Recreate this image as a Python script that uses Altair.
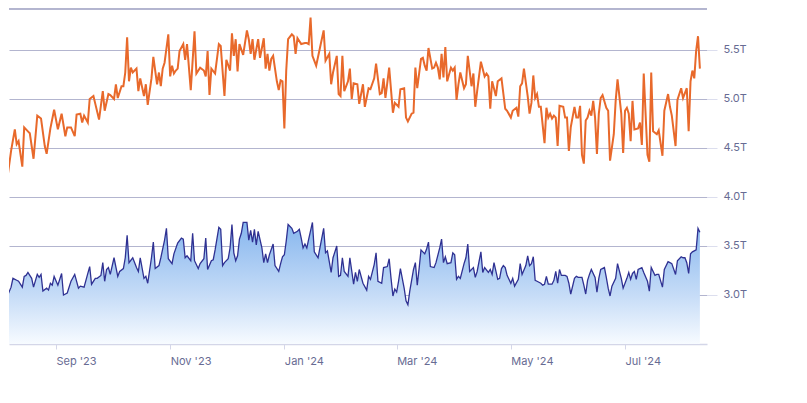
import altair as alt
import pandas as pd

# ---- data ----
start_date = "2023-08-03"

orange_days = [
    0, 1, 3, 5, 7, 8, 9, 11, 12, 14,
    15, 17, 19, 21, 23, 24, 26, 28, 30, 32,
    34, 35, 37, 39, 40, 42, 43, 44, 46, 47,
    49, 50, 52, 54, 55, 57, 58, 60, 61, 62,
    64, 65, 66, 67, 68, 69, 70, 72, 73, 74,
    76, 77, 78, 80, 81, 83, 84, 85, 86, 87,
    89, 90, 91, 92, 93, 94, 95, 97, 98, 99,
    101, 103, 104, 106, 108, 109, 110, 111, 112, 114,
    116, 117, 119, 120, 122, 123, 124, 125, 126, 127,
    129, 131, 132, 133, 134, 135, 137, 138, 140, 141,
    142, 143, 144, 145, 147, 148, 149, 150, 151, 152,
    153, 155, 156, 157, 158, 160, 162, 163, 164, 165,
    166, 168, 170, 172, 173, 175, 176, 177, 179, 180,
    181, 182, 183, 185, 186, 187, 188, 190, 191, 193,
    194, 196, 197, 199, 200, 202, 203, 204, 205, 207,
    209, 210, 212, 213, 215, 216, 217, 219, 220, 221,
    222, 224, 225, 226, 227, 228, 230, 231, 232, 233,
    234, 235, 236, 237, 238, 240, 241, 242, 243, 244,
    245, 247, 248, 249, 251, 252, 253, 254, 256, 258,
    259, 260, 261, 262, 264, 265, 267, 269, 270, 272,
    273, 275, 276, 277, 278, 279, 281, 282, 283, 284,
    285, 286, 287, 288, 290, 291, 292, 293, 294, 295,
    296, 297, 298, 300, 301, 302, 303, 304, 306, 307,
    308, 309, 310, 311, 312, 313, 314, 315, 316, 317,
    318, 319, 320, 321, 323, 324, 325, 327, 328, 329,
    331, 332, 333, 334, 335, 336, 337, 338, 340, 341,
    342, 343, 345, 346, 347, 348, 350, 351, 353, 354,
    356, 357, 358, 360, 361, 363, 364, 366, 367, 368,
    369, 370, 371, 372, 373,
]
orange_vals = [
    4.69, 4.71, 4.19, 4.47, 4.69, 4.54, 4.57, 4.31, 4.71, 4.67,
    4.65, 4.39, 4.83, 4.80, 4.52, 4.44, 4.70, 4.89, 4.69, 4.85,
    4.62, 4.71, 4.71, 4.62, 4.84, 4.85, 4.76, 4.83, 4.76, 5.00,
    5.03, 4.95, 4.79, 5.08, 4.88, 5.05, 5.04, 5.00, 5.15, 5.01,
    5.13, 5.13, 5.27, 5.63, 5.18, 5.32, 5.27, 5.31, 5.08, 5.21,
    5.03, 5.15, 4.94, 5.21, 5.43, 5.15, 5.27, 5.13, 5.31, 5.37,
    5.66, 5.23, 5.34, 5.26, 5.29, 5.31, 5.49, 5.56, 5.40, 5.56,
    5.09, 5.69, 5.26, 5.32, 5.29, 5.23, 5.49, 5.04, 5.31, 5.26,
    5.56, 5.54, 5.03, 5.40, 5.29, 5.67, 5.44, 5.61, 5.28, 5.56,
    5.45, 5.70, 5.61, 5.46, 5.61, 5.40, 5.61, 5.42, 5.62, 5.31,
    5.46, 5.29, 5.41, 5.44, 5.18, 5.09, 5.19, 5.18, 4.70, 5.29,
    5.61, 5.66, 5.64, 5.46, 5.62, 5.56, 5.57, 5.57, 5.56, 5.83,
    5.44, 5.34, 5.52, 5.70, 5.39, 5.46, 5.15, 5.27, 5.44, 5.05,
    5.03, 5.44, 5.08, 5.18, 5.31, 5.00, 5.16, 5.15, 4.95, 5.15,
    4.92, 5.11, 5.10, 5.21, 5.36, 5.05, 5.06, 5.21, 5.01, 5.32,
    4.86, 4.96, 4.92, 5.10, 5.11, 4.81, 4.77, 4.85, 4.86, 5.32,
    5.11, 5.41, 5.42, 5.34, 5.29, 5.52, 5.31, 5.32, 5.37, 5.32,
    5.20, 5.46, 5.22, 5.53, 5.18, 5.32, 5.29, 5.32, 4.99, 5.15,
    5.27, 5.11, 5.15, 5.44, 5.13, 5.26, 4.92, 5.08, 5.38, 5.23,
    5.26, 5.23, 4.90, 5.18, 5.03, 5.18, 5.21, 4.90, 4.88, 4.81,
    4.88, 4.91, 4.82, 5.13, 5.16, 5.31, 5.03, 4.85, 4.96, 5.24,
    5.01, 5.05, 4.92, 4.92, 4.55, 4.91, 4.81, 4.85, 4.80, 4.83,
    4.81, 4.52, 4.93, 4.92, 4.81, 4.81, 4.47, 4.71, 4.92, 4.81,
    4.81, 4.93, 4.43, 4.34, 4.78, 4.81, 4.88, 4.83, 4.98, 4.81,
    4.44, 4.85, 5.01, 5.04, 4.91, 4.88, 4.37, 4.64, 4.98, 5.20,
    4.85, 4.45, 4.88, 4.91, 4.85, 4.57, 4.98, 4.69, 4.70, 4.76,
    4.53, 5.26, 4.43, 4.36, 5.27, 4.67, 4.64, 4.68, 4.42, 4.88,
    5.05, 4.92, 4.83, 4.52, 4.99, 5.11, 5.01, 5.11, 4.67, 5.18,
    5.29, 5.21, 5.49, 5.64, 5.31,
]

blue_days = [
    0, 1, 2, 3, 5, 6, 8, 9, 11, 12,
    13, 14, 16, 17, 19, 20, 21, 22, 24, 25,
    26, 27, 28, 30, 32, 33, 35, 37, 39, 41,
    42, 44, 46, 47, 48, 50, 51, 53, 54, 55,
    56, 57, 58, 60, 62, 63, 65, 66, 67, 68,
    70, 72, 73, 74, 76, 77, 78, 80, 81, 82,
    84, 85, 87, 88, 89, 91, 92, 94, 96, 97,
    98, 99, 101, 102, 103, 105, 106, 108, 109, 110,
    112, 113, 114, 116, 117, 118, 119, 121, 122, 123,
    124, 125, 126, 127, 128, 129, 131, 132, 133, 134,
    135, 136, 137, 139, 140, 141, 142, 143, 145, 146,
    148, 149, 150, 151, 152, 153, 155, 156, 158, 159,
    160, 161, 162, 163, 164, 166, 167, 168, 169, 170,
    172, 173, 174, 176, 177, 179, 180, 181, 182, 183,
    185, 186, 188, 189, 190, 191, 193, 195, 196, 197,
    199, 200, 201, 203, 204, 206, 207, 208, 209, 210,
    211, 212, 213, 215, 216, 217, 218, 220, 221, 222,
    223, 224, 226, 227, 228, 229, 231, 232, 234, 235,
    236, 237, 238, 240, 241, 242, 243, 244, 245, 247,
    248, 249, 250, 252, 253, 254, 256, 257, 258, 260,
    261, 262, 263, 265, 266, 267, 268, 269, 270, 272,
    273, 274, 276, 277, 278, 280, 281, 282, 283, 284,
    285, 286, 288, 289, 290, 291, 292, 294, 295, 296,
    297, 298, 299, 301, 302, 303, 304, 306, 307, 308,
    310, 311, 312, 313, 314, 315, 317, 318, 319, 320,
    322, 323, 324, 325, 326, 328, 329, 331, 332, 334,
    335, 336, 337, 338, 339, 340, 342, 343, 345, 346,
    347, 349, 350, 351, 353, 354, 356, 357, 358, 360,
    361, 363, 364, 365, 366, 367, 368, 369, 370, 371,
    372, 373,
]
blue_vals = [
    3.13, 3.16, 3.13, 2.99, 3.08, 3.17, 3.15, 3.14, 3.08, 3.19,
    3.20, 3.23, 3.17, 3.08, 3.21, 3.18, 3.21, 3.04, 3.07, 3.05,
    3.12, 3.10, 3.19, 3.10, 3.22, 3.00, 3.02, 3.14, 3.21, 3.07,
    3.09, 3.08, 3.22, 3.29, 3.11, 3.17, 3.17, 3.20, 3.33, 3.14,
    3.26, 3.28, 3.21, 3.38, 3.19, 3.24, 3.27, 3.38, 3.61, 3.33,
    3.38, 3.28, 3.24, 3.38, 3.17, 3.19, 3.12, 3.38, 3.54, 3.27,
    3.30, 3.38, 3.56, 3.68, 3.37, 3.32, 3.42, 3.53, 3.58, 3.57,
    3.38, 3.40, 3.35, 3.63, 3.35, 3.27, 3.32, 3.37, 3.58, 3.26,
    3.35, 3.36, 3.46, 3.69, 3.67, 3.30, 3.33, 3.37, 3.48, 3.72,
    3.43, 3.35, 3.40, 3.57, 3.63, 3.74, 3.74, 3.56, 3.66, 3.54,
    3.67, 3.51, 3.65, 3.48, 3.33, 3.42, 3.33, 3.41, 3.52, 3.30,
    3.24, 3.32, 3.39, 3.41, 3.55, 3.72, 3.68, 3.63, 3.65, 3.67,
    3.58, 3.48, 3.52, 3.48, 3.57, 3.74, 3.44, 3.41, 3.38, 3.48,
    3.68, 3.43, 3.45, 3.23, 3.38, 3.50, 3.19, 3.20, 3.38, 3.24,
    3.19, 3.38, 3.11, 3.23, 3.14, 3.26, 3.12, 3.05, 3.19, 3.16,
    3.31, 3.43, 3.14, 3.12, 3.28, 3.29, 3.37, 3.17, 2.99, 3.06,
    3.03, 3.14, 3.27, 3.07, 2.94, 2.90, 3.04, 3.26, 3.33, 3.10,
    3.27, 3.46, 3.42, 3.47, 3.54, 3.29, 3.28, 3.33, 3.48, 3.57,
    3.33, 3.39, 3.32, 3.33, 3.43, 3.41, 3.16, 3.19, 3.17, 3.32,
    3.38, 3.52, 3.24, 3.28, 3.18, 3.24, 3.44, 3.23, 3.28, 3.23,
    3.26, 3.21, 3.33, 3.16, 3.17, 3.27, 3.30, 3.28, 3.20, 3.12,
    3.17, 3.09, 3.16, 3.32, 3.21, 3.30, 3.40, 3.30, 3.32, 3.39,
    3.15, 3.14, 3.12, 3.10, 3.11, 3.19, 3.11, 3.11, 3.15, 3.24,
    3.12, 3.26, 3.20, 3.20, 3.19, 3.12, 3.01, 3.17, 3.19, 3.18,
    3.18, 3.10, 3.01, 3.15, 3.21, 3.26, 3.18, 3.03, 3.17, 3.26,
    3.28, 3.18, 3.07, 2.99, 3.09, 3.17, 3.32, 3.17, 3.07, 3.17,
    3.23, 3.16, 3.22, 3.24, 3.16, 3.26, 3.28, 3.23, 3.14, 3.04,
    3.28, 3.20, 3.21, 3.21, 3.08, 3.26, 3.34, 3.33, 3.32, 3.21,
    3.35, 3.39, 3.38, 3.38, 3.33, 3.22, 3.42, 3.44, 3.45, 3.46,
    3.68, 3.64,
]

x_tick_dates = ["2023-09-01", "2023-11-01", "2024-01-01", "2024-03-01", "2024-05-01", "2024-07-01"]
y_tick_values = [3.0, 3.5, 4.0, 4.5, 5.0, 5.5]
y_floor = 2.5

# ---- frames ----
start = pd.Timestamp(start_date)
orange_df = pd.DataFrame({
    "date": start + pd.to_timedelta(orange_days, unit="D"),
    "value": orange_vals,
})
blue_df = pd.DataFrame({
    "date": start + pd.to_timedelta(blue_days, unit="D"),
    "value": blue_vals,
})

W, H = 698, 335
GRID = "#b3b5cf"
LABEL = "#676b93"
FONT = "Inter"


def dt(s, h=0, m=0):
    t = pd.Timestamp(s)
    return alt.DateTime(year=t.year, month=t.month, date=t.day, hours=h, minutes=m)


x_scale = alt.Scale(domain=[dt("2023-08-06", 21, 20), dt("2024-08-13", 19, 10)])
y_scale = alt.Scale(domain=[y_floor, 5.918], zero=False, nice=False)

x_enc = alt.X(
    "date:T",
    scale=x_scale,
    title=None,
    axis=alt.Axis(
        values=[dt(d) for d in x_tick_dates],
        format="%b '%y",
        labelAlign="left",
        labelColor=LABEL,
        labelFont=FONT,
        labelFontSize=11,
        labelPadding=6,
        tickColor="#d4d6e8",
        tickSize=5,
        domainColor="#d4d6e8",
        domainWidth=1.5,
        grid=False,
    ),
)
y_enc = alt.Y(
    "value:Q",
    scale=y_scale,
    title=None,
    axis=alt.Axis(
        orient="right",
        values=y_tick_values,
        labelExpr="format(datum.value, '.1f') + 'T'",
        labelColor=LABEL,
        labelFont=FONT,
        labelFontSize=11,
        labelPadding=6,
        tickColor="#dcdeee",
        tickSize=10,
        domain=False,
        grid=True,
        gridColor=GRID,
        gridWidth=1,
    ),
)

area = alt.Chart(blue_df).mark_area(
    clip=True,
    color=alt.Gradient(
        gradient="linear",
        stops=[
            alt.GradientStop(color="#86b6ee", offset=0),
            alt.GradientStop(color="#c6dcf7", offset=0.6),
            alt.GradientStop(color="#f7fbff", offset=1),
        ],
        x1=1, x2=1, y1=0, y2=1,
    ),
).encode(x=x_enc, y=y_enc, y2=alt.datum(y_floor))

blue_line = alt.Chart(blue_df).mark_line(
    clip=True, color="#2f3192", strokeWidth=1.3
).encode(x=x_enc, y=y_enc)

orange_line = alt.Chart(orange_df).mark_line(
    clip=True, color="#e8692b", strokeWidth=2
).encode(x=x_enc, y=y_enc)

top_rule = alt.Chart(orange_df).mark_rule(color=GRID, strokeWidth=1).encode(
    x=alt.value(0), x2=alt.value(W), y=alt.value(0)
)

chart = (
    alt.layer(area, blue_line, orange_line, top_rule)
    .properties(width=W, height=H, padding={"left": 0, "top": 0, "right": 5, "bottom": 5},
                background="white")
    .configure_view(stroke=None)
)

chart.save("out.html", embed_options={"renderer": "svg", "actions": False})
